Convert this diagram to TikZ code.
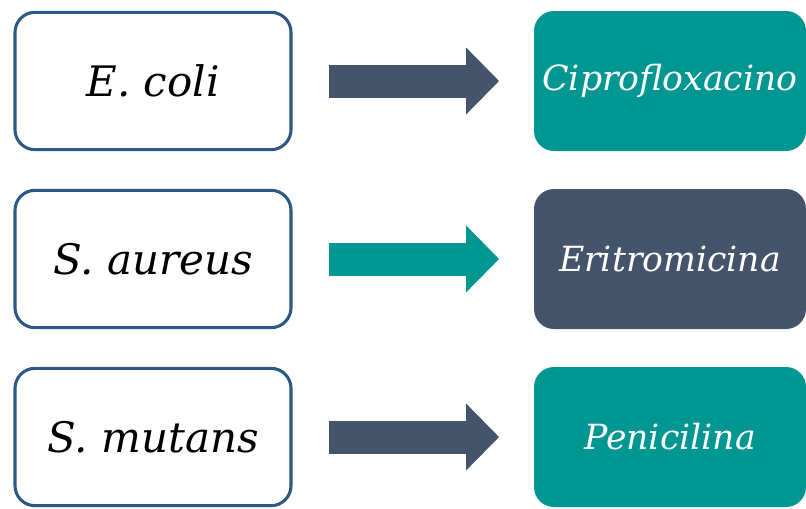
\documentclass[tikz,border=0pt]{standalone}
\usepackage{fontspec}
\setmainfont{DejaVu Serif}
\usetikzlibrary{arrows.meta}
\definecolor{teal1}{RGB}{0,150,145}
\definecolor{slate1}{RGB}{68,84,106}
\definecolor{rim1}{RGB}{44,88,132}
\begin{document}
\begin{tikzpicture}[x=0.75pt,y=0.75pt,
    bact/.style={draw=rim1,line width=2.3pt,rounded corners=15pt,fill=white,
      minimum width=207pt,minimum height=103pt,inner sep=0pt,
      font=\fontsize{31.5}{36}\selectfont\itshape},
    drug/.style={rounded corners=15pt,minimum width=204pt,minimum height=105pt,
      inner sep=0pt,text=white,font=\fontsize{26}{30}\selectfont\itshape},
    fat/.style={line width=24.75pt,-{Triangle[length=24.75pt,width=48.75pt]},
      shorten <=27pt,shorten >=26pt}]
  \useasboundingbox (0,0) rectangle (806,-508);
  \node[bact] (b1) at (153,-81) {E. coli};
  \node[bact] (b2) at (153,-259) {S. aureus};
  \node[bact] (b3) at (153,-437) {S. mutans};
  \node[drug,fill=teal1] (d1) at (670,-81) {Ciprofloxacino};
  \node[drug,fill=slate1] (d2) at (670,-259) {Eritromicina};
  \node[drug,fill=teal1] (d3) at (670,-437) {Penicilina};
  \draw[fat,slate1] (b1) -- (d1);
  \draw[fat,teal1] (b2) -- (d2);
  \draw[fat,slate1] (b3) -- (d3);
\end{tikzpicture}
\end{document}
